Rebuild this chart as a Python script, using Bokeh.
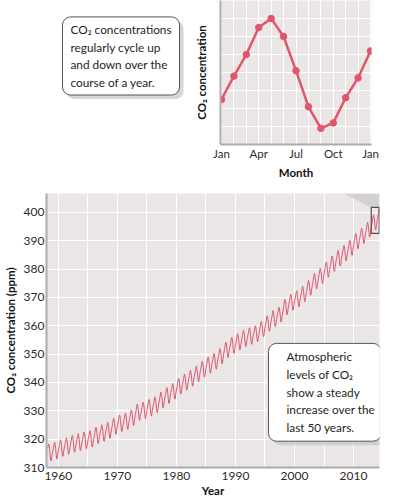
import numpy as np
from bokeh.plotting import figure
from bokeh.models import FixedTicker, Label, PolyAnnotation, Range1d
from bokeh.layouts import column, row
from bokeh.embed import file_html
from bokeh.resources import INLINE

FONT = "Lato"

# ---------------- data ----------------
# inset: one year of monthly CO2 (ppm), Jan .. following Jan
inset_months = ["Jan", "Feb", "Mar", "Apr", "May", "Jun", "Jul", "Aug", "Sep", "Oct", "Nov", "Dec", "Jan"]
inset_co2 = [395.5, 396.8, 398.0, 399.5, 400.0, 399.0, 397.1, 395.1, 393.9, 394.2, 395.6, 396.7, 398.2]
inset_tick_pos = [0, 3, 6, 9, 12]

# main: annual mean CO2 (ppm) and the monthly seasonal offset (ppm)
years = list(range(1958, 2015))
annual_mean = [315.30, 315.97, 316.91, 317.64, 318.45, 318.99, 319.62, 320.04, 321.38, 322.16,
               323.04, 324.62, 325.68, 326.32, 327.45, 329.68, 330.18, 331.11, 332.04, 333.83,
               335.40, 336.84, 338.75, 340.11, 341.45, 343.05, 344.65, 346.12, 347.42, 349.19,
               351.57, 353.12, 354.39, 355.61, 356.45, 357.10, 358.83, 360.82, 362.61, 363.73,
               366.70, 368.38, 369.55, 371.14, 373.28, 375.80, 377.52, 379.80, 381.90, 383.79,
               385.60, 387.43, 389.90, 391.65, 393.85, 396.52, 398.65]
seasonal_offset = [-0.1, 0.7, 1.4, 2.5, 3.0, 2.3, 0.8, -1.3, -3.0, -3.2, -2.0, -0.9]
first_month = (1958, 2)   # March 1958
last_month = (2014, 5)    # June 2014

main_x_ticks = [1960, 1970, 1980, 1990, 2000, 2010]
main_x_grid = [1960, 1965, 1970, 1975, 1980, 1985, 1990, 1995, 2000, 2005, 2010]
main_y_ticks = [310, 320, 330, 340, 350, 360, 370, 380, 390, 400]

zoom_window_years = [2013.0, 2014.35]
zoom_window_ppm = [392.6, 401.8]

callout_top = "CO\u2082 concentrations\nregularly cycle up\nand down over the\ncourse of a year."
callout_main = "Atmospheric\nlevels of CO\u2082\nshow a steady\nincrease over the\nlast 50 years."

# monthly series
t, off = [], []
for y in years:
    for m in range(12):
        if (y, m) < first_month or (y, m) > last_month:
            continue
        t.append(y + (m + 0.5) / 12.0)
        off.append(seasonal_offset[m])
t = np.array(t)
co2 = np.interp(t, np.array(years) + 0.5, annual_mean) + np.array(off)

# ---------------- styles ----------------
BG = "#e9e6e5"
AXIS = "#aeabab"
LINE = "#e0566d"
TXT = "#2b2b2b"


def style_axes(p):
    for ax in (p.xaxis, p.yaxis):
        ax.axis_line_color = AXIS
        ax.axis_line_width = 2
        ax.major_tick_line_color = None
        ax.minor_tick_line_color = None
        ax.major_tick_out = 0
        ax.major_tick_in = 0
        ax.minor_tick_out = 0
        ax.major_label_text_font = FONT
        ax.major_label_text_color = TXT
        ax.axis_label_text_font = FONT
        ax.axis_label_text_font_style = "bold"
        ax.axis_label_text_color = "#111111"
        ax.axis_label_text_font_size = "11.5px"
    p.grid.grid_line_color = "white"
    p.grid.grid_line_width = 1
    p.background_fill_color = BG
    p.border_fill_color = "white"
    p.outline_line_color = None


def callout(p, x, y, text, pad):
    shadow = Label(x=x, y=y, x_offset=4, y_offset=-4, text=text, anchor="top_left",
                   text_font=FONT, text_font_size="11.8px", text_line_height=1.18,
                   text_color="#c4c4c4", text_alpha=0.7,
                   padding=pad, border_radius=8, background_fill_color="#c4c4c4",
                   background_fill_alpha=0.7, border_line_color=None)
    box = Label(x=x, y=y, text=text, anchor="top_left",
                text_font=FONT, text_font_size="11.8px", text_line_height=1.18, text_color="#231f20",
                padding=pad, border_radius=8, background_fill_color="white",
                border_line_color="#555555", border_line_width=1)
    p.add_layout(shadow)
    p.add_layout(box)


# ---------------- callout figure (top left) ----------------
note = figure(width=185, height=193, x_range=Range1d(0, 185), y_range=Range1d(193, 0),
              x_axis_location=None, y_axis_location=None, output_backend="svg",
              toolbar_location=None, min_border=0)
note.grid.visible = False
note.outline_line_color = None
note.background_fill_color = "white"
note.border_fill_color = "white"
callout(note, 62, 22, callout_top, (8, 5))

# ---------------- inset figure ----------------
inset = figure(width=211, height=193, x_range=Range1d(-0.08, 12.08), y_range=Range1d(393, 401),
               output_backend="svg", toolbar_location=None,
               min_border_left=35, min_border_right=25, min_border_top=0, min_border_bottom=49)
style_axes(inset)
inset.xaxis.ticker = FixedTicker(ticks=inset_tick_pos)
inset.xaxis.major_label_overrides = {i: inset_months[i] for i in inset_tick_pos}
inset.xaxis.major_label_text_font_size = "11.5px"
inset.xaxis.major_label_standoff = 2
inset.xaxis.axis_label = "Month"
inset.xaxis.axis_label_standoff = 3
inset.yaxis.ticker = FixedTicker(ticks=[])
inset.yaxis.axis_label = "CO\u2082 concentration"
inset.yaxis.axis_label_standoff = 13
inset.xgrid.ticker = FixedTicker(ticks=list(range(13)))
inset.ygrid.ticker = FixedTicker(ticks=[394, 395, 396, 397, 398, 399, 400])

inset.line(list(range(13)), inset_co2, line_color=LINE, line_width=2.5)
inset.scatter(list(range(13)), inset_co2, size=6.5, fill_color=LINE, line_color=LINE)

# ---------------- main figure ----------------
main = figure(width=396, height=307, x_range=Range1d(1958.0, 2014.4), y_range=Range1d(310, 406.7),
              output_backend="svg", toolbar_location=None,
              min_border_left=43, min_border_right=17, min_border_top=0, min_border_bottom=33)
style_axes(main)
main.xaxis.ticker = FixedTicker(ticks=main_x_ticks)
main.xaxis.major_label_text_font_size = "12px"
main.xaxis.major_label_standoff = 4
main.xaxis.axis_label = "Year"
main.xaxis.axis_label_standoff = 1
main.yaxis.ticker = FixedTicker(ticks=main_y_ticks)
main.yaxis.major_label_text_font_size = "12px"
main.yaxis.major_label_standoff = 2
main.yaxis.axis_label = "CO\u2082 concentration (ppm)"
main.yaxis.axis_label_standoff = 4
main.xgrid.ticker = FixedTicker(ticks=main_x_grid)
main.ygrid.ticker = FixedTicker(ticks=main_y_ticks)

wedge_main = PolyAnnotation(xs=[2008.28, zoom_window_years[0], 2014.4, 2014.4],
                            ys=[406.7, zoom_window_ppm[1], zoom_window_ppm[1], 406.7],
                            fill_color="#d3d1d1", fill_alpha=1, line_color=None, level="underlay")
main.add_layout(wedge_main)

main.line(t, co2, line_color=LINE, line_width=1)
main.quad(left=[zoom_window_years[0]], right=[zoom_window_years[1]],
          bottom=[zoom_window_ppm[0]], top=[zoom_window_ppm[1]],
          fill_color=None, line_color="#505050", line_width=1.2)

callout(main, 1995.6, 353.8, callout_main, (18, 6, 6, 6))

layout = column(row(note, inset, spacing=0), main, spacing=0)
open("out.html", "w").write(file_html(layout, INLINE))
